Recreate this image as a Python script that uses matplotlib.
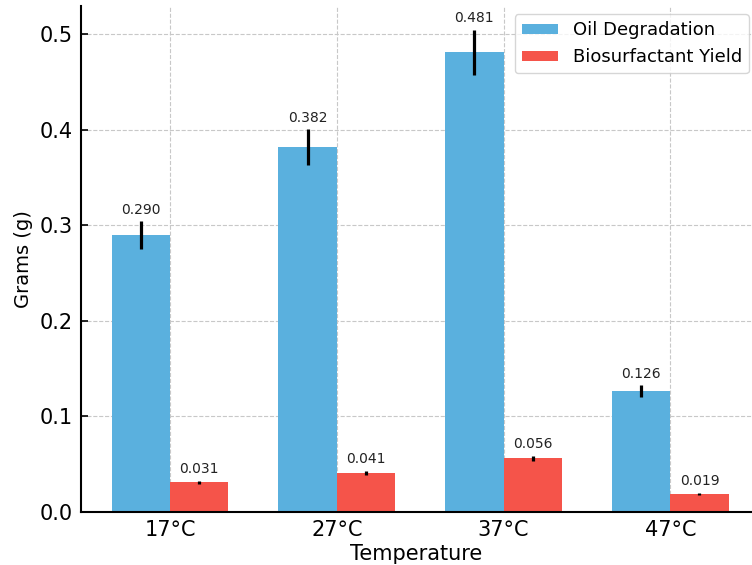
import numpy as np
import matplotlib.pyplot as plt

temps = ['17°C', '27°C', '37°C', '47°C']
oil_degradation = [0.290, 0.382, 0.481, 0.126]
biosurfactant_yield = [0.031, 0.041, 0.056, 0.019]
oil_err = [0.0145, 0.019, 0.024, 0.0063]
bio_err = [0.0016, 0.0021, 0.0028, 0.0010]

x = np.arange(len(temps))
width = 0.35

fig = plt.figure(figsize=(7.52, 5.65), dpi=100)
ax = fig.add_axes([0.1077, 0.0943, 0.8923, 0.8956])
ax.set_axisbelow(True)
ax.grid(True, linestyle='--', color='#c8c8c8', linewidth=0.8)

b1 = ax.bar(x - width / 2, oil_degradation, width, yerr=oil_err,
            color='#5AB0DE', label='Oil Degradation',
            error_kw=dict(ecolor='black', elinewidth=2.3, capsize=0))
b2 = ax.bar(x + width / 2, biosurfactant_yield, width, yerr=bio_err,
            color='#F5544A', label='Biosurfactant Yield',
            error_kw=dict(ecolor='black', elinewidth=2.3, capsize=0))

# value labels just above the error bars
for bars, vals, errs in [(b1, oil_degradation, oil_err), (b2, biosurfactant_yield, bio_err)]:
    for rect, v, e in zip(bars, vals, errs):
        ax.text(rect.get_x() + rect.get_width() / 2, v + e + 0.0045, f'{v:.3f}',
                ha='center', va='bottom', fontsize=10, color='#222222')

ax.set_xticks(x)
ax.set_xticklabels(temps, fontsize=15)
ax.tick_params(axis='y', labelsize=15)
ax.tick_params(direction='in', length=5, width=1.2, pad=6)
ax.set_xlabel('Temperature', fontsize=15, labelpad=3)
ax.set_ylabel('Grams (g)', fontsize=14, labelpad=5)
ax.set_xlim(-0.534, 3.49)
ax.set_ylim(0, 0.530)
ax.set_yticks([0.0, 0.1, 0.2, 0.3, 0.4, 0.5])

ax.spines['top'].set_visible(False)
ax.spines['right'].set_visible(False)
ax.spines['left'].set_linewidth(1.5)
ax.spines['bottom'].set_linewidth(1.5)

ax.legend(loc='upper right', fontsize=13, bbox_to_anchor=(0.9955, 0.9836),
          borderaxespad=0, handleheight=0.45, handlelength=2.0)

plt.savefig('out.png', dpi=100)
